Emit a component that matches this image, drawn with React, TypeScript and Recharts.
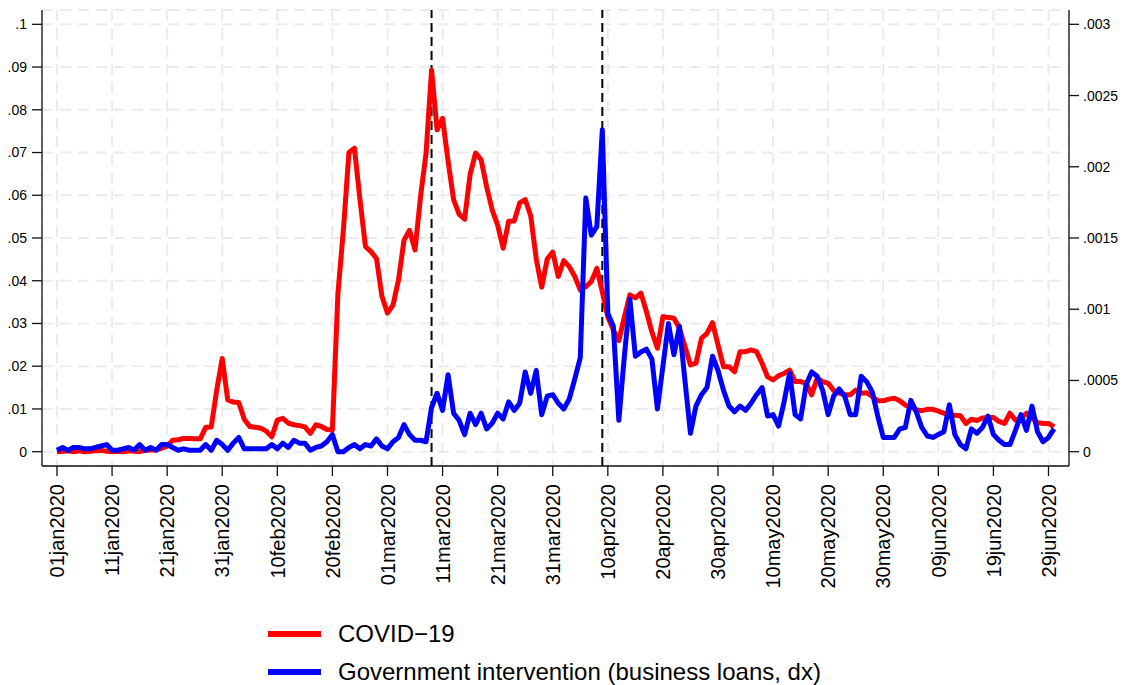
import { CartesianGrid, Line, LineChart, ReferenceLine, XAxis, YAxis } from "recharts";

// Daily values, 01jan2020 .. 30jun2020 (one entry per day)
const covidJan = [
  0, 0.0001, 0.0002, 0, 0.0002, 0, 0.0001, 0.0002, 0.0003, 0.0001, 0, 0.0001, 0, 0.0002, 0.0001, 0,
  0.0003, 0.0004, 0.0004, 0.0008, 0.0013, 0.0027, 0.0028, 0.0031, 0.0031, 0.003, 0.003, 0.0057,
  0.0058, 0.0144, 0.0218,
];
const covidFeb = [
  0.0121, 0.0116, 0.0115, 0.0076, 0.0059, 0.0057, 0.0055, 0.0048, 0.0035, 0.0074, 0.0078, 0.0067,
  0.0063, 0.0061, 0.0058, 0.0043, 0.0063, 0.0059, 0.0052, 0.0051, 0.037, 0.052, 0.07, 0.071, 0.059,
  0.048, 0.0468, 0.0452, 0.0363,
];
const covidMar = [
  0.0324, 0.0343, 0.0402, 0.0495, 0.0518, 0.0472, 0.0597, 0.0698, 0.0893, 0.0753, 0.078, 0.068,
  0.059, 0.0556, 0.0544, 0.0649, 0.0699, 0.0683, 0.062, 0.0566, 0.053, 0.0476, 0.0539, 0.054,
  0.0582, 0.059, 0.0552, 0.0451, 0.0385, 0.0451, 0.0467,
];
const covidApr = [
  0.041, 0.0447, 0.0433, 0.041, 0.0378, 0.0386, 0.0398, 0.0429, 0.0374, 0.0315, 0.0285, 0.026,
  0.0315, 0.0367, 0.036, 0.0371, 0.0328, 0.028, 0.0242, 0.0316, 0.0314, 0.0312, 0.0289, 0.0246,
  0.0203, 0.0207, 0.0265, 0.0277, 0.0302, 0.025,
];
const covidMay = [
  0.0199, 0.0199, 0.0187, 0.0234, 0.0234, 0.0238, 0.0234, 0.0207, 0.0175, 0.0168, 0.0178, 0.0183,
  0.0191, 0.0164, 0.0164, 0.016, 0.0133, 0.0172, 0.0164, 0.016, 0.0143, 0.0137, 0.0133, 0.0133,
  0.0144, 0.0137, 0.0138, 0.0129, 0.0119, 0.0119, 0.0123,
];
const covidJun = [
  0.0125, 0.0119, 0.0109, 0.0105, 0.0098, 0.0096, 0.0099, 0.0099, 0.0095, 0.009, 0.0086, 0.0085,
  0.0084, 0.0066, 0.0076, 0.0073, 0.0079, 0.008, 0.008, 0.0071, 0.0066, 0.009, 0.0074, 0.0078,
  0.009, 0.0078, 0.0068, 0.0066, 0.0066, 0.0058,
];

const loansJan = [
  0.00001, 0.00003, 0.00001, 0.00003, 0.00003, 0.00002, 0.00002, 0.00003, 0.00004, 0.00005, 0.00001,
  0.00001, 0.00002, 0.00003, 0.00001, 0.00005, 0.00001, 0.00003, 0.00001, 0.00005, 0.00005, 0.00003,
  0.00001, 0.00002, 0.00001, 0.00001, 0.00001, 0.00005, 0.00001, 0.00008, 0.00005,
];
const loansFeb = [
  0.00001, 0.00006, 0.0001, 0.00002, 0.00002, 0.00002, 0.00002, 0.00002, 0.00005, 0.00002, 0.00006,
  0.00003, 0.00008, 0.00006, 0.00006, 0.00001, 0.00003, 0.00004, 0.00007, 0.00012, 0, 0, 0.00003,
  0.00005, 0.00002, 0.00005, 0.00004, 0.00009, 0.00004,
];
const loansMar = [
  0.00002, 0.00007, 0.0001, 0.00019, 0.00012, 0.00008, 0.00008, 0.00007, 0.00031, 0.00041, 0.00029,
  0.00054, 0.00027, 0.00022, 0.00012, 0.00027, 0.00019, 0.00027, 0.00016, 0.0002, 0.00027, 0.00023,
  0.00035, 0.00029, 0.00034, 0.00056, 0.00041, 0.00057, 0.00026, 0.00039, 0.0004,
];
const loansApr = [
  0.00034, 0.0003, 0.00037, 0.00051, 0.00066, 0.00178, 0.00152, 0.00158, 0.00226, 0.00097, 0.00088,
  0.00022, 0.00067, 0.00107, 0.00067, 0.0007, 0.00072, 0.00065, 0.0003, 0.0006, 0.0009, 0.00068,
  0.00088, 0.0005, 0.00013, 0.00032, 0.0004, 0.00045, 0.00067, 0.00057,
];
const loansMay = [
  0.00043, 0.00032, 0.00028, 0.00032, 0.00029, 0.00034, 0.0004, 0.00045, 0.00025, 0.00026, 0.00018,
  0.00035, 0.00055, 0.00026, 0.00023, 0.00047, 0.00056, 0.00053, 0.00043, 0.00026, 0.00039, 0.00044,
  0.00039, 0.00026, 0.00026, 0.00053, 0.00049, 0.00042, 0.00025, 0.0001, 0.0001,
];
const loansJun = [
  0.0001, 0.00016, 0.00017, 0.00036, 0.00028, 0.00017, 0.00011, 0.0001, 0.00012, 0.00014, 0.00033,
  0.00012, 0.00005, 0.00002, 0.00016, 0.00013, 0.00017, 0.00025, 0.00012, 0.00008, 0.00005, 0.00005,
  0.00015, 0.00026, 0.00015, 0.00032, 0.00014, 0.00007, 0.0001, 0.00016,
];

const xTickDays = [0, 10, 20, 30, 40, 50, 60, 70, 80, 90, 100, 110, 120, 130, 140, 150, 160, 170, 180];
const xTickLabels = [
  "01jan2020", "11jan2020", "21jan2020", "31jan2020", "10feb2020", "20feb2020", "01mar2020",
  "11mar2020", "21mar2020", "31mar2020", "10apr2020", "20apr2020", "30apr2020", "10may2020",
  "20may2020", "30may2020", "09jun2020", "19jun2020", "29jun2020",
];
const leftTicks = [0, 0.01, 0.02, 0.03, 0.04, 0.05, 0.06, 0.07, 0.08, 0.09, 0.1];
const rightTicks = [0, 0.0005, 0.001, 0.0015, 0.002, 0.0025, 0.003];

// 09mar2020 and 09apr2020
const eventDays = [68, 99];

const covid = [...covidJan, ...covidFeb, ...covidMar, ...covidApr, ...covidMay, ...covidJun];
const loans = [...loansJan, ...loansFeb, ...loansMar, ...loansApr, ...loansMay, ...loansJun];
const data = covid.map((v, i) => ({ day: i, covid: v, loans: loans[i] }));

const FONT = "'Liberation Sans', Arial, Helvetica, sans-serif";

// stata-style number labels: .05 instead of 0.05
const stataNum = (v: number) => (v === 0 ? "0" : String(v).replace(/^0\./, "."));

function DateTick({ x, y, payload }: any) {
  const idx = xTickDays.indexOf(payload.value);
  return (
    <g transform={`translate(${x},${y})`}>
      <text
        transform="rotate(-90)"
        x={-8}
        y={0}
        dy="0.36em"
        textAnchor="end"
        fontSize={20}
        fill="#000"
        fontFamily={FONT}
      >
        {xTickLabels[idx]}
      </text>
    </g>
  );
}

export default function App() {
  const axisLine = { stroke: "#111", strokeWidth: 1.3 };
  const tickText = { fill: "#000", fontSize: 14, fontFamily: FONT };

  return (
    <div style={{ position: "absolute", left: 0, top: 0, width: 1124, height: 685, background: "#fff", fontFamily: FONT }}>
      <LineChart width={1124} height={685} data={data} margin={{ top: 10, right: 0, bottom: 89, left: 0 }}>
        <CartesianGrid stroke="#ebebeb" strokeWidth={2} strokeDasharray="11 7" />
        <XAxis
          dataKey="day"
          type="number"
          domain={[-2.72, 183.72]}
          ticks={xTickDays}
          interval={0}
          height={130}
          tickSize={10}
          tickMargin={0}
          axisLine={axisLine}
          tickLine={axisLine}
          tick={<DateTick />}
          allowDataOverflow
        />
        <YAxis
          type="number"
          domain={[-0.00335, 0.10335]}
          ticks={leftTicks}
          interval={0}
          width={42}
          tickSize={10}
          tickMargin={5}
          axisLine={axisLine}
          tickLine={axisLine}
          tick={tickText}
          tickFormatter={stataNum}
          allowDataOverflow
        />
        <YAxis
          yAxisId="right"
          orientation="right"
          type="number"
          domain={[-0.0001005, 0.0031005]}
          ticks={rightTicks}
          interval={0}
          width={55}
          tickSize={10}
          tickMargin={4}
          axisLine={axisLine}
          tickLine={axisLine}
          tick={tickText}
          tickFormatter={stataNum}
          allowDataOverflow
        />
        {eventDays.map((d) => (
          <ReferenceLine key={d} x={d} stroke="#000" strokeWidth={2} strokeDasharray="9 5" />
        ))}
        <Line
          type="linear"
          dataKey="covid"
          stroke="#ff0000"
          strokeWidth={5}
          strokeLinejoin="round"
          dot={false}
          isAnimationActive={false}
        />
        <Line
          type="linear"
          dataKey="loans"
          yAxisId="right"
          stroke="#0000ff"
          strokeWidth={5}
          strokeLinejoin="round"
          dot={false}
          isAnimationActive={false}
        />
      </LineChart>

      {/* legend */}
      <div style={{ position: "absolute", left: 268, top: 631, width: 53, height: 6, background: "#ff0000" }} />
      <div style={{ position: "absolute", left: 338, top: 620, fontSize: 24, lineHeight: "28px", color: "#000", whiteSpace: "nowrap" }}>
        COVID−19
      </div>
      <div style={{ position: "absolute", left: 268, top: 669, width: 53, height: 6, background: "#0000ff" }} />
      <div style={{ position: "absolute", left: 338, top: 658, fontSize: 24, lineHeight: "28px", color: "#000", whiteSpace: "nowrap" }}>
        Government intervention (business loans, dx)
      </div>
    </div>
  );
}
